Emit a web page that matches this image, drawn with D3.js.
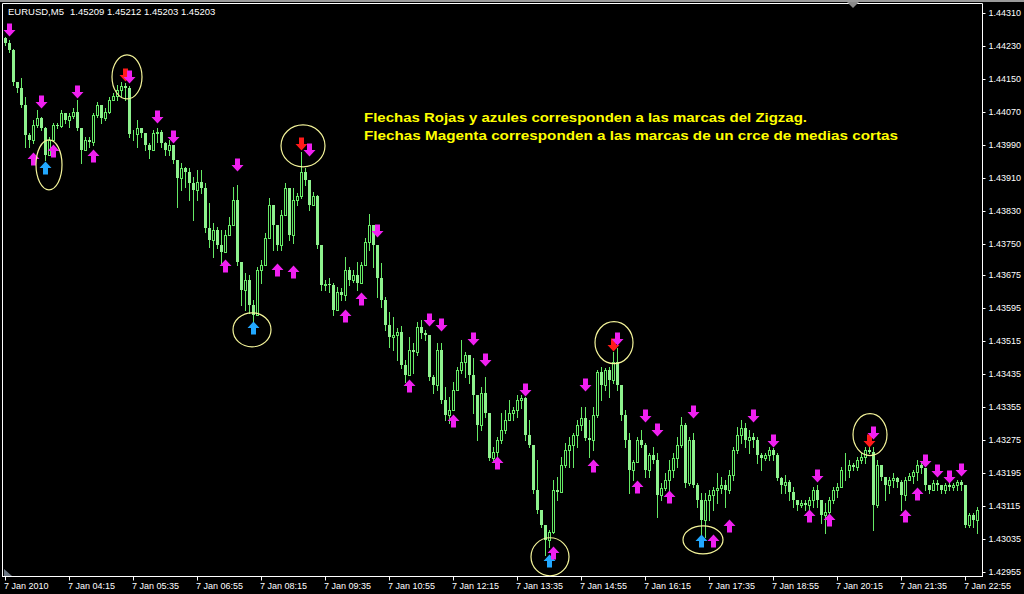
<!DOCTYPE html>
<html><head><meta charset="utf-8">
<script src="https://cdn.jsdelivr.net/npm/d3@7"></script>
<style>html,body{margin:0;padding:0;background:#000;overflow:hidden}</style>
</head><body>
<script>
// ---- data (EURUSD M5, 7 Jan 2010) ----
const firstOpen = 1.44250;
const closes = [
1.44238,1.44221,1.44143,1.44129,1.44087,1.44015,1.44003,1.44039,1.44056,1.44032,
1.43966,1.44003,1.44039,1.44037,1.44068,1.44051,1.44061,1.44071,1.44032,1.43978,
1.44003,1.43998,1.44063,1.44087,1.44056,1.44071,1.44100,1.44109,1.44124,1.44134,
1.44129,1.44017,1.44017,1.44032,1.44020,1.43990,1.43978,1.44020,1.44022,1.43995,
1.43978,1.43990,1.43954,1.43911,1.43935,1.43925,1.43898,1.43881,1.43901,1.43886,
1.43789,1.43760,1.43784,1.43748,1.43731,1.43772,1.43797,1.43857,1.43707,1.43639,
1.43663,1.43603,1.43578,1.43688,1.43700,1.43765,1.43845,1.43797,1.43748,1.43821,
1.43886,1.43772,1.43857,1.43867,1.43925,1.43906,1.43845,1.43867,1.43748,1.43651,
1.43654,1.43651,1.43591,1.43634,1.43627,1.43688,1.43663,1.43675,1.43656,1.43700,
1.43755,1.43797,1.43748,1.43668,1.43615,1.43554,1.43525,1.43530,1.43537,1.43457,
1.43433,1.43494,1.43489,1.43549,1.43535,1.43530,1.43428,1.43409,1.43494,1.43372,
1.43336,1.43348,1.43397,1.43445,1.43464,1.43481,1.43433,1.43384,1.43312,1.43389,
1.43341,1.43232,1.43246,1.43275,1.43300,1.43324,1.43341,1.43348,1.43372,1.43377,
1.43288,1.43263,1.43154,1.43106,1.43069,1.43033,1.43052,1.43154,1.43149,1.43215,
1.43251,1.43263,1.43288,1.43312,1.43329,1.43280,1.43275,1.43336,1.43440,1.43409,
1.43445,1.43421,1.43464,1.43409,1.43336,1.43275,1.43203,1.43222,1.43275,1.43263,
1.43203,1.43239,1.43227,1.43142,1.43159,1.43179,1.43203,1.43232,1.43263,1.43312,
1.43171,1.43275,1.43166,1.43130,1.43082,1.43130,1.43142,1.43154,1.43159,1.43166,
1.43154,1.43191,1.43251,1.43288,1.43305,1.43275,1.43283,1.43275,1.43239,1.43232,
1.43239,1.43251,1.43239,1.43183,1.43166,1.43174,1.43149,1.43130,1.43118,1.43123,
1.43118,1.43130,1.43154,1.43130,1.43094,1.43101,1.43130,1.43154,1.43162,1.43203,
1.43203,1.43215,1.43210,1.43227,1.43234,1.43251,1.43246,1.43118,1.43215,1.43186,
1.43166,1.43179,1.43183,1.43174,1.43142,1.43179,1.43188,1.43198,1.43215,1.43208,
1.43166,1.43154,1.43171,1.43166,1.43154,1.43166,1.43162,1.43166,1.43174,1.43166,
1.43069,1.43094,1.43082,1.43106];
const highs = [
1.44252,1.44245,1.44223,1.44141,1.44153,1.44107,1.44020,1.44051,1.44075,1.44058,
1.44034,1.44010,1.44044,1.44044,1.44075,1.44068,1.44068,1.44080,1.44100,1.44032,
1.44010,1.44010,1.44068,1.44095,1.44080,1.44080,1.44107,1.44117,1.44136,1.44143,
1.44141,1.44134,1.44027,1.44051,1.44032,1.44020,1.43995,1.44027,1.44032,1.44027,
1.43998,1.44003,1.43990,1.43954,1.43947,1.43937,1.43935,1.43913,1.43930,1.43930,
1.43898,1.43850,1.43801,1.43792,1.43784,1.43784,1.43816,1.43889,1.43894,1.43704,
1.43680,1.43675,1.43615,1.43695,1.43712,1.43777,1.43862,1.43845,1.43784,1.43833,
1.43898,1.43881,1.43886,1.43874,1.43974,1.43935,1.43906,1.43877,1.43869,1.43748,
1.43663,1.43668,1.43656,1.43646,1.43644,1.43719,1.43695,1.43688,1.43707,1.43707,
1.43765,1.43823,1.43760,1.43748,1.43704,1.43622,1.43586,1.43574,1.43547,1.43552,
1.43469,1.43525,1.43511,1.43562,1.43566,1.43542,1.43530,1.43433,1.43511,1.43511,
1.43404,1.43380,1.43416,1.43452,1.43518,1.43489,1.43469,1.43474,1.43380,1.43404,
1.43428,1.43341,1.43258,1.43283,1.43341,1.43348,1.43372,1.43355,1.43384,1.43384,
1.43380,1.43324,1.43263,1.43227,1.43106,1.43065,1.43057,1.43179,1.43186,1.43234,
1.43268,1.43283,1.43292,1.43324,1.43355,1.43355,1.43324,1.43355,1.43445,1.43452,
1.43450,1.43452,1.43489,1.43498,1.43404,1.43348,1.43292,1.43227,1.43283,1.43300,
1.43268,1.43244,1.43258,1.43244,1.43171,1.43195,1.43227,1.43244,1.43283,1.43331,
1.43317,1.43283,1.43292,1.43171,1.43147,1.43147,1.43154,1.43162,1.43195,1.43186,
1.43179,1.43203,1.43258,1.43307,1.43324,1.43317,1.43300,1.43292,1.43283,1.43244,
1.43244,1.43258,1.43256,1.43244,1.43186,1.43191,1.43179,1.43162,1.43130,1.43130,
1.43130,1.43137,1.43162,1.43166,1.43123,1.43123,1.43137,1.43162,1.43171,1.43210,
1.43244,1.43227,1.43220,1.43234,1.43244,1.43258,1.43258,1.43258,1.43227,1.43195,
1.43186,1.43186,1.43195,1.43186,1.43179,1.43186,1.43195,1.43203,1.43227,1.43220,
1.43203,1.43162,1.43179,1.43179,1.43162,1.43171,1.43171,1.43171,1.43179,1.43179,
1.43162,1.43098,1.43098,1.43113];
const lows = [
1.44233,1.44216,1.44136,1.44119,1.44083,1.43986,1.43986,1.43995,1.44034,1.44027,
1.43954,1.43978,1.44010,1.44032,1.44034,1.44044,1.44034,1.44056,1.44027,1.43947,
1.43978,1.43986,1.43990,1.44058,1.44044,1.44051,1.44068,1.44100,1.44100,1.44107,
1.44100,1.44010,1.44003,1.43986,1.44010,1.43978,1.43959,1.43978,1.43998,1.43986,
1.43966,1.43966,1.43947,1.43840,1.43881,1.43889,1.43857,1.43809,1.43857,1.43874,
1.43780,1.43743,1.43719,1.43741,1.43704,1.43736,1.43777,1.43801,1.43700,1.43603,
1.43591,1.43583,1.43562,1.43578,1.43656,1.43700,1.43765,1.43736,1.43736,1.43736,
1.43821,1.43760,1.43753,1.43845,1.43862,1.43894,1.43833,1.43845,1.43741,1.43639,
1.43639,1.43634,1.43578,1.43603,1.43615,1.43615,1.43651,1.43658,1.43639,1.43658,
1.43700,1.43736,1.43695,1.43622,1.43598,1.43542,1.43501,1.43494,1.43469,1.43450,
1.43416,1.43440,1.43438,1.43481,1.43523,1.43518,1.43421,1.43389,1.43397,1.43365,
1.43324,1.43317,1.43355,1.43404,1.43438,1.43428,1.43414,1.43341,1.43275,1.43300,
1.43331,1.43227,1.43227,1.43227,1.43268,1.43292,1.43324,1.43324,1.43331,1.43353,
1.43275,1.43258,1.43147,1.43098,1.43065,1.42997,1.43016,1.43050,1.43130,1.43162,
1.43210,1.43210,1.43210,1.43258,1.43300,1.43275,1.43234,1.43251,1.43331,1.43372,
1.43397,1.43380,1.43414,1.43397,1.43324,1.43258,1.43147,1.43179,1.43227,1.43258,
1.43186,1.43186,1.43220,1.43089,1.43130,1.43154,1.43147,1.43186,1.43210,1.43258,
1.43162,1.43166,1.43162,1.43113,1.43033,1.43040,1.43082,1.43106,1.43123,1.43147,
1.43113,1.43147,1.43179,1.43244,1.43268,1.43258,1.43244,1.43258,1.43220,1.43203,
1.43227,1.43227,1.43227,1.43179,1.43147,1.43147,1.43130,1.43113,1.43106,1.43113,
1.43106,1.43106,1.43113,1.43113,1.43074,1.43050,1.43089,1.43123,1.43137,1.43162,
1.43179,1.43186,1.43203,1.43203,1.43220,1.43220,1.43244,1.43057,1.43113,1.43179,
1.43130,1.43147,1.43162,1.43162,1.43106,1.43130,1.43179,1.43171,1.43179,1.43195,
1.43154,1.43147,1.43154,1.43154,1.43147,1.43147,1.43154,1.43154,1.43154,1.43154,
1.43065,1.43065,1.43065,1.43050];

// moving-average crossover marks (magenta)
const maDownBars   = [1,9,18,31,38,42,58,76,93,106,109,117,120,130,145,153,160,163,172,187,192,203,217,230,233,236,239];
const maDownPrices = [1.44269,1.44095,1.44119,1.44155,1.44058,1.44010,1.43942,1.43978,1.43782,1.43566,1.43554,1.43520,1.43469,1.43397,1.43409,1.43520,1.43334,1.43300,1.43343,1.43334,1.43273,1.43188,1.43292,1.43225,1.43200,1.43186,1.43203];
const maUpBars   = [7,12,22,55,68,72,85,89,101,112,123,137,147,158,166,177,181,201,206,225,228];
const maUpPrices = [1.43957,1.43976,1.43964,1.43697,1.43688,1.43683,1.43576,1.43617,1.43406,1.43322,1.43220,1.43002,1.43212,1.43162,1.43137,1.43031,1.43067,1.43091,1.43082,1.43091,1.43145];
// zigzag marks
const zzHighBars   = [30,74,152,216];
const zzHighPrices = [1.44160,1.43993,1.43506,1.43273];
const zzLowBars    = [10,62,136,174];
const zzLowPrices  = [1.43935,1.43547,1.42982,1.43031];
// highlighted zigzag points (circle centres)
const circleBars   = [11,30.5,74.5,61.75,136.25,152.25,174.5,216.25];
const circlePrices = [1.43942,1.44155,1.43988,1.43542,1.42992,1.43511,1.43033,1.43288];
const circleRx = [13,15,22,19,19,19,20,17];
const circleRy = [25,22,21,17,19,21,14,21];

const yTicks = [1.44310,1.44230,1.44150,1.44070,1.43990,1.43910,1.43830,1.43750,1.43675,1.43595,1.43515,1.43435,1.43355,1.43275,1.43195,1.43115,1.43035,1.42955];
const xTickBars = [0,16,32,48,64,80,96,112,128,144,160,176,192,208,224,240];
const xTickLabels = ["7 Jan 2010","7 Jan 04:15","7 Jan 05:35","7 Jan 06:55","7 Jan 08:15","7 Jan 09:35","7 Jan 10:55","7 Jan 12:15","7 Jan 13:35","7 Jan 14:55","7 Jan 16:15","7 Jan 17:35","7 Jan 18:55","7 Jan 20:15","7 Jan 21:35","7 Jan 22:55"];
const headerSymbol = "EURUSD,M5";
const headerQuote = "1.45209 1.45212 1.45203 1.45203";
const noteLines = ["Flechas Rojas y azules corresponden a las marcas del Zigzag.",
                   "Flechas Magenta corresponden a las marcas de un crce de medias cortas"];

// ---- drawing ----
const W = 1024, H = 594;
const FONT = "'Liberation Sans', Arial, sans-serif";
const GREEN = "#66ea66", GREEN_FILL = "#8ef28e";
const MAGENTA = "#f020f0", RED = "#ff1a1a", BLUE = "#22a8ff", YEL = "#f4f49a";

const svg = d3.select("body").append("svg").attr("width", W).attr("height", H)
  .style("display","block").style("background","#000");

const x = d3.scaleLinear().domain([0, 243]).range([5, 977]);
const y = d3.scaleLinear().domain([1.42955, 1.44310]).range([572, 13]);

svg.append("defs").append("clipPath").attr("id","plot")
  .append("rect").attr("x",3).attr("y",4).attr("width",979).attr("height",572);

const bars = closes.map((c,i) => {
  const o = i ? closes[i-1] : firstOpen;
  return {i, o, c, h: Math.max(highs[i], o, c), l: Math.min(lows[i], o, c)};
});

const plot = svg.append("g").attr("clip-path","url(#plot)");
const px = v => Math.round(x(v));
const py = v => Math.round(y(v));

// wicks
plot.append("g").selectAll("line").data(bars).join("line")
  .attr("x1", d => px(d.i)+0.5).attr("x2", d => px(d.i)+0.5)
  .attr("y1", d => py(d.h)).attr("y2", d => py(d.l)+1)
  .attr("stroke", GREEN).attr("stroke-width",1);
// bodies
plot.append("g").selectAll("rect").data(bars).join("rect")
  .attr("x", d => d.c >= d.o ? px(d.i)-0.5 : px(d.i)-1)
  .attr("y", d => { const t = py(Math.max(d.o,d.c)); return d.c >= d.o ? t+0.5 : t; })
  .attr("width", d => d.c >= d.o ? 2 : 3)
  .attr("height", d => { const hgt = py(Math.min(d.o,d.c)) - py(Math.max(d.o,d.c)); return d.c >= d.o ? Math.max(hgt,0) : Math.max(hgt,1); })
  .attr("fill", d => d.c >= d.o ? "#000" : GREEN_FILL)
  .attr("stroke", d => d.c >= d.o ? GREEN : "none").attr("stroke-width",1);

// arrows
const downArrow = "M-2.5,-6.5 L2.5,-6.5 L2.5,0 L6,0 L0,6.5 L-6,0 L-2.5,0 Z";
const upArrow   = "M-2.5,6.5 L2.5,6.5 L2.5,0 L6,0 L0,-6.5 L-6,0 L-2.5,0 Z";
function arrows(barsIdx, prices, path, color) {
  plot.append("g").selectAll("path").data(barsIdx.map((b,k)=>({b, p: prices[k]}))).join("path")
    .attr("d", path).attr("fill", color)
    .attr("transform", d => `translate(${px(d.b)+0.5},${py(d.p)})`);
}
arrows(zzHighBars, zzHighPrices, downArrow, RED);
arrows(zzLowBars, zzLowPrices, upArrow, BLUE);
arrows(maDownBars, maDownPrices, downArrow, MAGENTA);
arrows(maUpBars, maUpPrices, upArrow, MAGENTA);

// circles round zigzag points
plot.append("g").selectAll("ellipse").data(circleBars.map((b,k)=>({b,p:circlePrices[k],rx:circleRx[k],ry:circleRy[k]}))).join("ellipse")
  .attr("cx", d => x(d.b)).attr("cy", d => y(d.p)).attr("rx", d => d.rx).attr("ry", d => d.ry)
  .attr("fill","none").attr("stroke",YEL).attr("stroke-width",1.2);

// frame
svg.append("rect").attr("x",0).attr("y",0).attr("width",W).attr("height",2).attr("fill","#9a9a9a");
svg.append("path").attr("d","M2.5,577 V3.5 H982.5 V577").attr("fill","none").attr("stroke","#fff");
svg.append("line").attr("x1",2).attr("x2",983).attr("y1",576.5).attr("y2",576.5).attr("stroke","#fff");
svg.append("path").attr("d","M847,2 L859,2 L853,8 Z").attr("fill","#8a8a8a");
svg.append("path").attr("d","M4,569 L4,576 L12,576 Z").attr("fill","#6a7480");

// axes
const yAxis = d3.axisRight(y).tickValues(yTicks).tickFormat(d3.format(".5f")).tickSize(3).tickPadding(3);
const gy = svg.append("g").attr("transform","translate(982.5,0)").call(yAxis);
gy.select(".domain").remove();
gy.selectAll(".tick line").attr("stroke","#fff");
gy.selectAll(".tick").attr("transform", d => `translate(0,${py(d)+0.5})`);
gy.selectAll(".tick text").attr("fill","#fff").style("font-family",FONT).style("font-size","9px");

const xAxis = d3.axisBottom(x).tickValues(xTickBars).tickFormat((d,k)=>xTickLabels[k]).tickSize(4).tickPadding(2);
const gx = svg.append("g").attr("transform","translate(0,576.5)").call(xAxis);
gx.select(".domain").remove();
gx.selectAll(".tick").attr("transform", d => `translate(${px(d)+0.5},0)`);
gx.selectAll(".tick line").attr("stroke","#fff");
gx.selectAll(".tick text").attr("fill","#fff").attr("text-anchor","start").attr("x",-1.5)
  .style("font-family",FONT).style("font-size","9px");

// header
svg.append("text").attr("x",8).attr("y",15).text(headerSymbol)
  .attr("fill","#fff").style("font-family",FONT).style("font-size","9.5px");
svg.append("text").attr("x",70).attr("y",15).text(headerQuote)
  .attr("fill","#fff").style("font-family",FONT).style("font-size","9.5px");

// note
const noteWidths = [443, 534];
svg.append("g").selectAll("text").data(noteLines).join("text")
  .attr("x",364).attr("y",(d,k)=>122+18*k).text(d=>d)
  .attr("textLength",(d,k)=>noteWidths[k]).attr("lengthAdjust","spacingAndGlyphs")
  .attr("fill","#ffff00").style("font-family",FONT).style("font-size","13.5px").style("font-weight","bold");
</script>
</body></html>
